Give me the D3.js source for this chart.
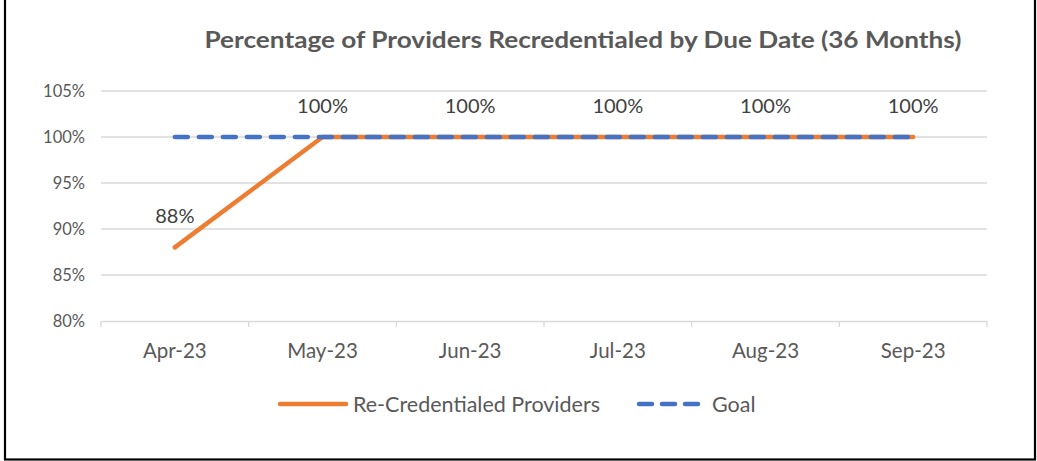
<!DOCTYPE html>
<html>
<head>
<meta charset="utf-8">
<script src="https://cdn.jsdelivr.net/npm/d3@7"></script>
<style>
  body { margin: 0; background: #fff; }
  text { font-family: Lato, "Open Sans", sans-serif; }
</style>
</head>
<body>
<script>
const months = ["Apr-23", "May-23", "Jun-23", "Jul-23", "Aug-23", "Sep-23"];
const recredentialed = [0.88, 1.0, 1.0, 1.0, 1.0, 1.0];
const goal = [1.0, 1.0, 1.0, 1.0, 1.0, 1.0];
const yTicks = [0.80, 0.85, 0.90, 0.95, 1.00, 1.05];

const width = 1037;
const height = 461;
const margin = { top: 91, right: 50, bottom: 140, left: 101 };

const svg = d3
  .select("body")
  .append("svg")
  .attr("width", width)
  .attr("height", height);

// outer frame
svg
  .append("rect")
  .attr("x", 5)
  .attr("y", -2)
  .attr("width", 1030)
  .attr("height", 461.5)
  .attr("fill", "none")
  .attr("stroke", "#000")
  .attr("stroke-width", 2.2);

const x = d3
  .scaleBand()
  .domain(months)
  .range([margin.left, width - margin.right]);
const y = d3
  .scaleLinear()
  .domain([0.8, 1.05])
  .range([height - margin.bottom, margin.top]);

const cx = (d) => x(d) + x.bandwidth() / 2;

svg
  .append("text")
  .text("Percentage of Providers Recredentialed by Due Date (36 Months)")
  .attr("x", 583)
  .attr("y", 48)
  .attr("text-anchor", "middle")
  .attr("font-size", 22)
  .attr("font-weight", "bold")
  .attr("fill", "#595959")
  .attr("textLength", 757)
  .attr("lengthAdjust", "spacingAndGlyphs");

// gridlines
svg
  .append("g")
  .selectAll("line")
  .data(yTicks.slice(1))
  .enter()
  .append("line")
  .attr("x1", margin.left)
  .attr("x2", width - margin.right)
  .attr("y1", (d) => y(d))
  .attr("y2", (d) => y(d))
  .attr("stroke", "#d9d9d9")
  .attr("stroke-width", 1.3);

// y axis labels
const yAxis = d3
  .axisLeft(y)
  .tickValues(yTicks)
  .tickFormat(d3.format(".0%"))
  .tickSize(0)
  .tickPadding(16);
svg
  .append("g")
  .attr("transform", `translate(${margin.left},0)`)
  .call(yAxis)
  .call((g) => g.select(".domain").remove())
  .call((g) =>
    g.selectAll("text").attr("font-size", 16.5).attr("fill", "#595959")
  );

// x axis
const xAxis = d3.axisBottom(x).tickSize(0).tickPadding(22);
const xg = svg
  .append("g")
  .attr("transform", `translate(0,${y(0.8)})`)
  .call(xAxis);
xg.select(".domain").attr("stroke", "#d9d9d9").attr("stroke-width", 1.3);
xg.selectAll("text").attr("font-size", 20.5).attr("fill", "#595959");
xg.selectAll(".sep")
  .data(months.concat(["end"]))
  .enter()
  .append("line")
  .attr("x1", (d, i) => margin.left + i * x.bandwidth())
  .attr("x2", (d, i) => margin.left + i * x.bandwidth())
  .attr("y1", 0)
  .attr("y2", 6)
  .attr("stroke", "#d9d9d9")
  .attr("stroke-width", 1.3);

const line = d3
  .line()
  .x((d, i) => cx(months[i]))
  .y((d) => y(d));

svg
  .append("path")
  .datum(recredentialed)
  .attr("d", line)
  .attr("fill", "none")
  .attr("stroke", "#ed7d31")
  .attr("stroke-width", 4.5)
  .attr("stroke-linecap", "round")
  .attr("stroke-linejoin", "round");

svg
  .append("path")
  .datum(goal)
  .attr("d", line)
  .attr("fill", "none")
  .attr("stroke", "#4472c4")
  .attr("stroke-width", 4.5)
  .attr("stroke-linecap", "round")
  .attr("stroke-dasharray", "13 11");

// data labels
svg
  .append("g")
  .selectAll("text")
  .data(recredentialed)
  .enter()
  .append("text")
  .text((d) => d3.format(".0%")(d))
  .attr("x", (d, i) => cx(months[i]))
  .attr("y", (d) => y(d) - 24)
  .attr("text-anchor", "middle")
  .attr("font-size", 20)
  .attr("fill", "#404040");

// legend
const legend = svg.append("g").attr("transform", "translate(0,404)");
legend
  .append("line")
  .attr("x1", 280)
  .attr("x2", 346)
  .attr("stroke", "#ed7d31")
  .attr("stroke-width", 4.5)
  .attr("stroke-linecap", "round");
legend
  .append("text")
  .text("Re-Credentialed Providers")
  .attr("x", 353)
  .attr("y", 8)
  .attr("font-size", 21.5)
  .attr("fill", "#595959");
legend
  .append("line")
  .attr("x1", 639)
  .attr("x2", 698)
  .attr("stroke", "#4472c4")
  .attr("stroke-width", 4.5)
  .attr("stroke-linecap", "round")
  .attr("stroke-dasharray", "13 10");
legend
  .append("text")
  .text("Goal")
  .attr("x", 712)
  .attr("y", 8)
  .attr("font-size", 21.5)
  .attr("fill", "#595959");
</script>
</body>
</html>
